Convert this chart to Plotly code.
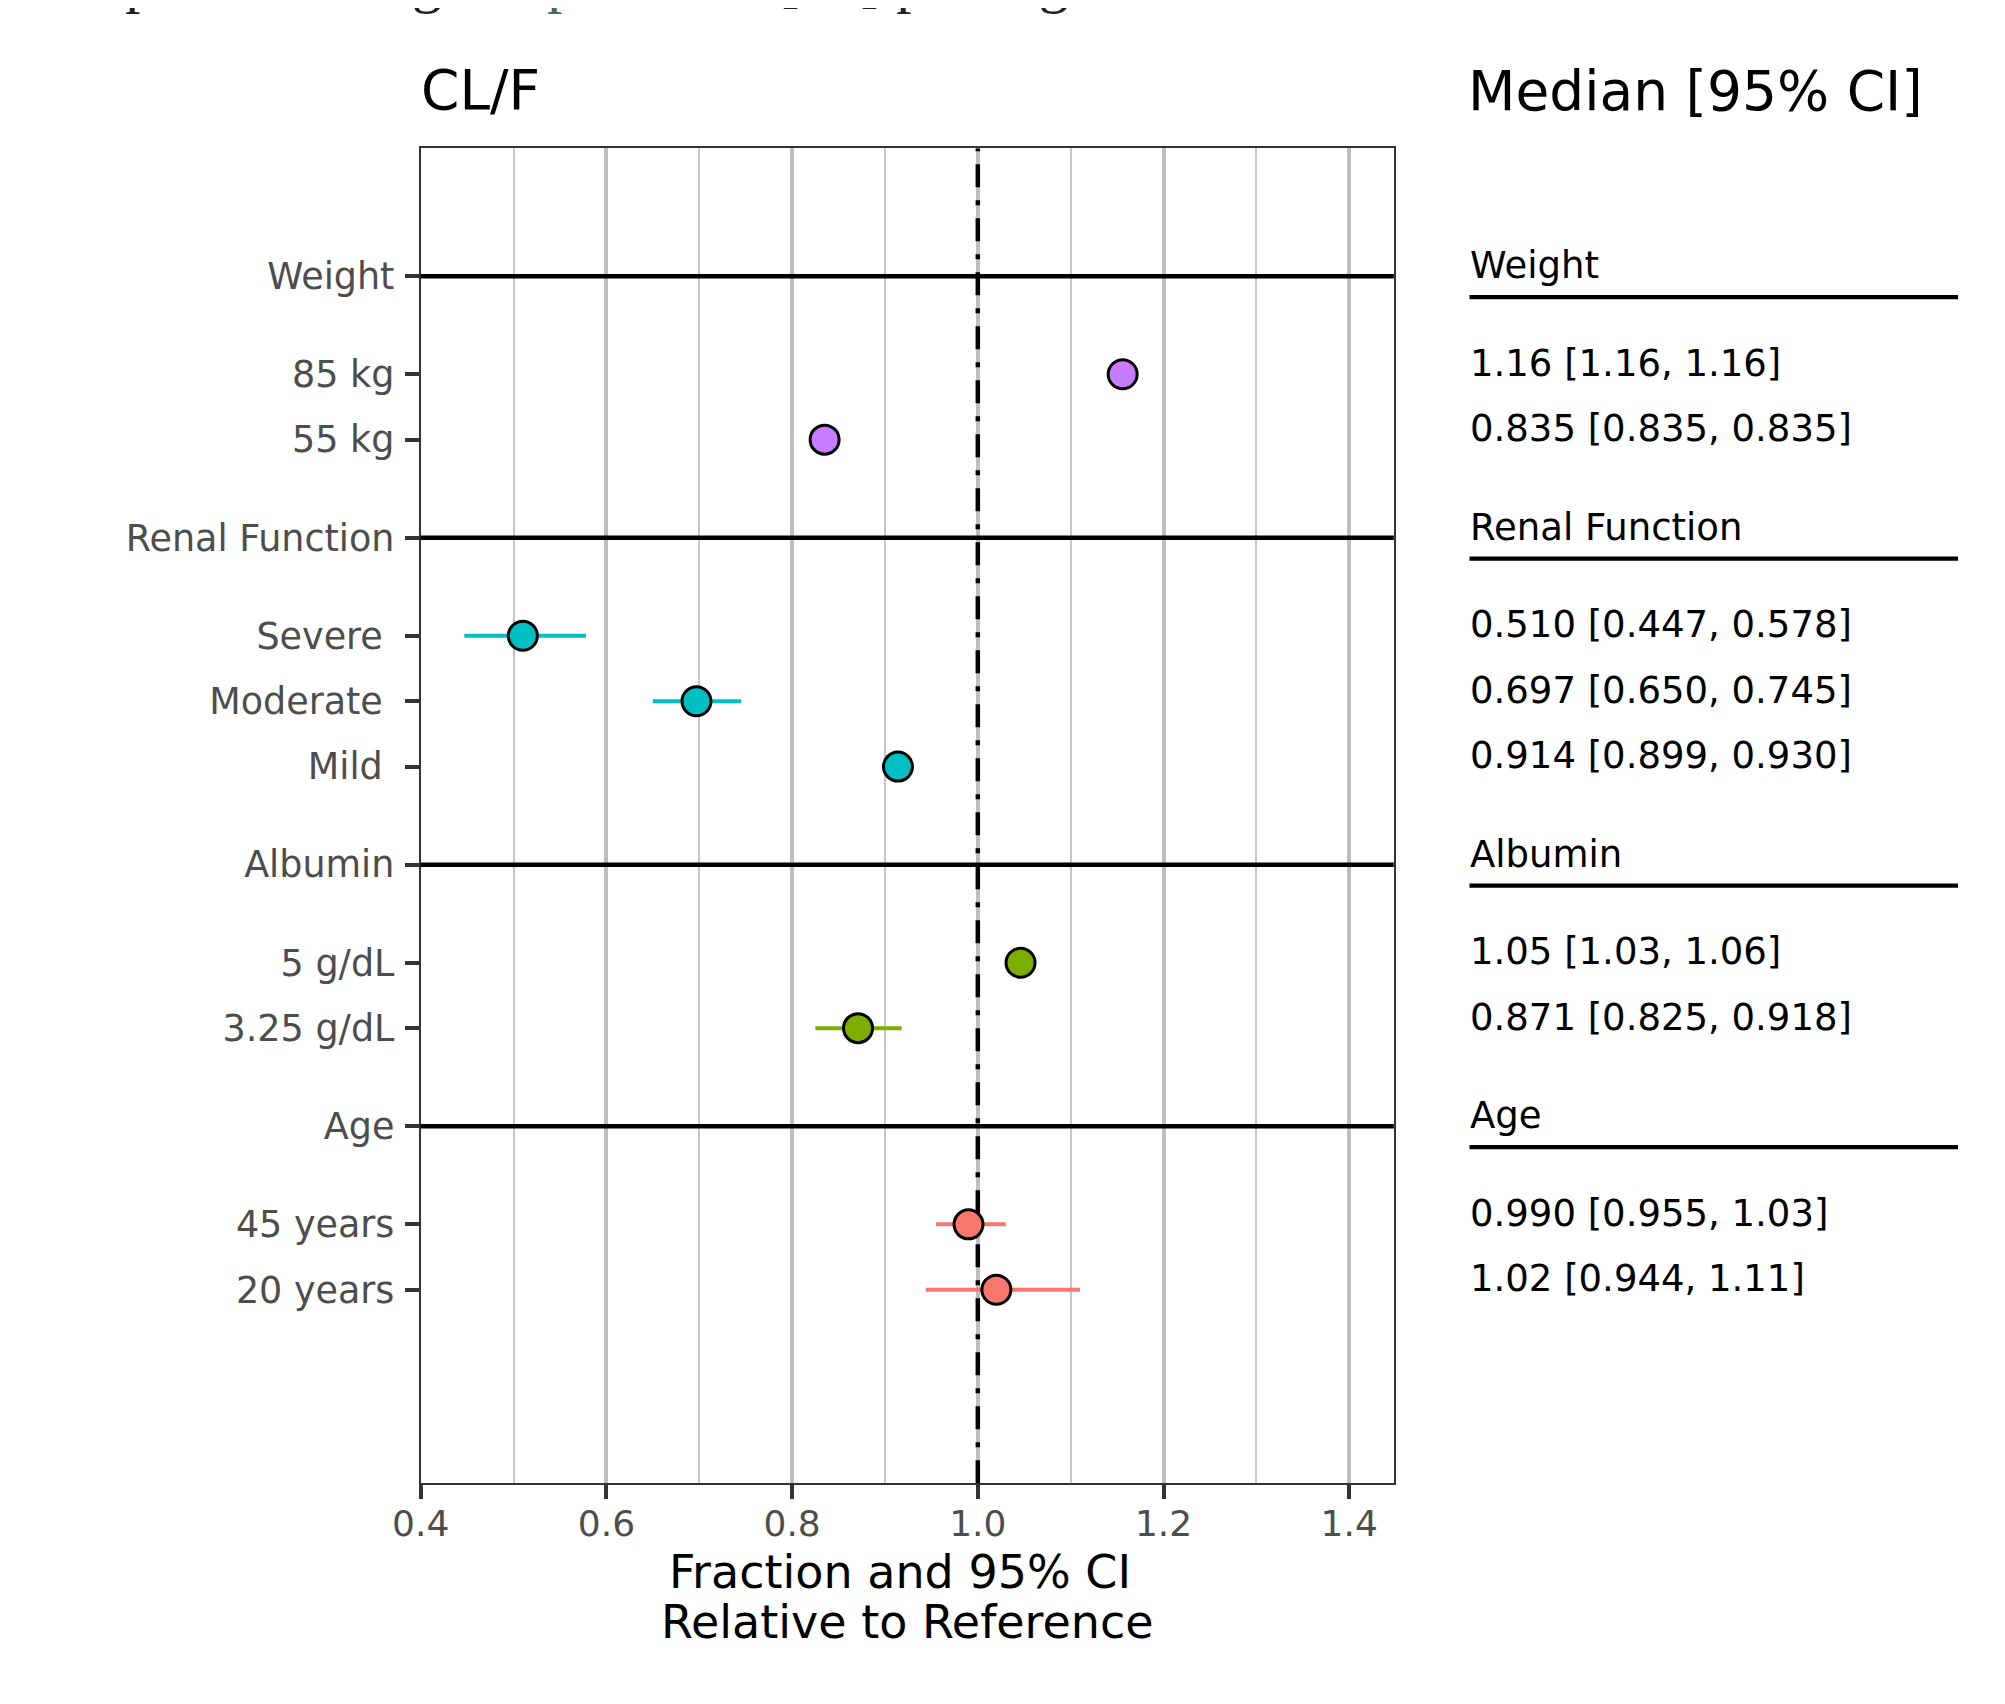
import plotly.graph_objects as go

# ---------------- data ----------------
groups = ["Weight", "Renal Function", "Albumin", "Age"]
group_colors = ["#C77CFF", "#00BFC4", "#7CAE00", "#F8766D"]

weight_levels = ["85 kg", "55 kg"]
weight_median = [1.156, 0.835]
weight_lo = [1.156, 0.835]
weight_hi = [1.156, 0.835]

renal_levels = ["Severe\u00a0", "Moderate\u00a0", "Mild\u00a0"]
renal_median = [0.510, 0.697, 0.914]
renal_lo = [0.447, 0.650, 0.899]
renal_hi = [0.578, 0.745, 0.930]

albumin_levels = ["5 g/dL", "3.25 g/dL"]
albumin_median = [1.046, 0.871]
albumin_lo = [1.03, 0.825]
albumin_hi = [1.06, 0.918]

age_levels = ["45 years", "20 years"]
age_median = [0.990, 1.02]
age_lo = [0.955, 0.944]
age_hi = [1.03, 1.11]

x_ticks = [0.4, 0.6, 0.8, 1.0, 1.2, 1.4]
x_minor = [0.5, 0.7, 0.9, 1.1, 1.3]

levels = [weight_levels, renal_levels, albumin_levels, age_levels]
medians = [weight_median, renal_median, albumin_median, age_median]
los = [weight_lo, renal_lo, albumin_lo, age_lo]
his = [weight_hi, renal_hi, albumin_hi, age_hi]

# ---------------- layout helpers ----------------
W, H = 2005, 1704
PAGE_OFF = 8  # default body margin of the html page
def px(x):
    return (x - PAGE_OFF) / W
def py(y):
    return 1 - (y - PAGE_OFF) / H

PLOT_L, PLOT_R, PLOT_T, PLOT_B = 420.7, 1393.8, 148.3, 1483.3
TAB_L, TAB_R = 1469.5, 1958.0
TAB_TEXT_L = 1467.5
Y_RANGE = [18.46, -1.955]
X_RANGE = [0.4, 1.448]
FONT = "DejaVu Sans"
TICK_GREY = "#4D4D4D"

# row positions: header, then levels 1.5, 2.5, ... below it
header_rows, level_rows = [], []
pos = 0.0
for lv in levels:
    header_rows.append(pos)
    rows = [pos + 1.5 + i for i in range(len(lv))]
    level_rows.append(rows)
    pos = rows[-1] + 1.5

tickvals, ticktext = [], []
for g, hr, lv, rows in zip(groups, header_rows, levels, level_rows):
    tickvals.append(hr)
    ticktext.append(g)
    tickvals += rows
    ticktext += lv

fig = go.Figure()

# CI segments
for col, rows, lo, hi in zip(group_colors, level_rows, los, his):
    xs, ys = [], []
    for r, a, b in zip(rows, lo, hi):
        xs += [a, b, None]
        ys += [r, r, None]
    fig.add_trace(go.Scatter(x=xs, y=ys, mode="lines",
                             line=dict(color=col, width=4),
                             hoverinfo="skip", showlegend=False))

# reference line at 1
fig.add_trace(go.Scatter(x=[1.0, 1.0], y=[Y_RANGE[0], Y_RANGE[1]], mode="lines",
                         line=dict(color="black", width=4.5, dash="23px,13px,5px,13px"),
                         hoverinfo="skip", showlegend=False))

# medians
for col, rows, med in zip(group_colors, level_rows, medians):
    fig.add_trace(go.Scatter(x=med, y=rows, mode="markers",
                             marker=dict(color=col, size=29,
                                         line=dict(color="black", width=3)),
                             showlegend=False))

shapes = []
annotations = []

# header lines across the panel
for hr in header_rows:
    shapes.append(dict(type="line", xref="x domain", x0=0, x1=1, yref="y",
                       y0=hr, y1=hr, line=dict(color="black", width=4.5),
                       layer="above"))

# right-hand table
for g, hr, rows, med, lo, hi in zip(groups, header_rows, level_rows, medians, los, his):
    annotations.append(dict(text=g, xref="paper", x=px(TAB_TEXT_L), xanchor="left",
                            yref="y", y=hr, yanchor="middle", yshift=10.5,
                            showarrow=False, font=dict(family=FONT, size=37, color="black")))
    shapes.append(dict(type="line", xref="paper", x0=px(TAB_L), x1=px(TAB_R),
                       yref="y", y0=hr + 0.32, y1=hr + 0.32,
                       line=dict(color="black", width=4.3)))
    for r, m, a, b in zip(rows, med, lo, hi):
        label = f"{m:#.3g} [{a:#.3g}, {b:#.3g}]"
        annotations.append(dict(text=label, xref="paper", x=px(TAB_TEXT_L), xanchor="left",
                                yref="y", y=r, yanchor="middle", yshift=11,
                                showarrow=False,
                                font=dict(family=FONT, size=37, color="black")))

# titles
annotations.append(dict(text="CL/F", xref="paper", x=px(PLOT_L - 1.5), xanchor="left",
                        yref="paper", y=py(90), yanchor="middle", showarrow=False,
                        font=dict(family=FONT, size=55, color="black")))
annotations.append(dict(text="Median [95% CI]", xref="paper", x=px(TAB_TEXT_L - 1.5), xanchor="left",
                        yref="paper", y=py(90.5), yanchor="middle", showarrow=False,
                        font=dict(family=FONT, size=55, color="black")))

# x axis title (two lines)
annotations.append(dict(text="Fraction and 95% CI", xref="x domain", x=0.5, xanchor="center",
                        xshift=-7, yref="paper", y=py(1572), yanchor="middle", showarrow=False,
                        font=dict(family=FONT, size=46, color="black")))
annotations.append(dict(text="Relative to Reference", xref="x domain", x=0.5, xanchor="center",
                        yref="paper", y=py(1622), yanchor="middle", showarrow=False,
                        font=dict(family=FONT, size=46, color="black")))

# cropped running text at the very top of the page
annotations.append(dict(
    text='and plotted using the <span style="color:#4a6670">pmforest</span> [18] package.',
    xref="paper", x=px(20), xanchor="left", yref="paper", y=py(15.5), yanchor="bottom",
    showarrow=False, font=dict(family="Liberation Serif", size=61, color="#231f20")))

fig.update_layout(
    width=W, height=H,
    margin=dict(l=0, r=0, t=0, b=0),
    paper_bgcolor="white", plot_bgcolor="white",
    showlegend=False,
    font=dict(family=FONT),
    shapes=shapes,
    annotations=annotations,
    xaxis=dict(
        domain=[px(PLOT_L), px(PLOT_R)], range=X_RANGE,
        tickmode="array", tickvals=x_ticks, ticktext=[f"{v:.1f}" for v in x_ticks],
        ticks="outside", ticklen=14, tickwidth=4, tickcolor="#333333",
        tickfont=dict(family=FONT, size=36, color=TICK_GREY),
        ticklabelstandoff=-7,
        showline=True, mirror=True, linecolor="#333333", linewidth=2,
        showgrid=True, gridcolor="#BEBEBE", gridwidth=3.5,
        minor=dict(tickmode="array", tickvals=x_minor, showgrid=True,
                   gridcolor="#C6C6C6", gridwidth=2, ticks=""),
        zeroline=False, automargin=False,
    ),
    yaxis=dict(
        domain=[py(PLOT_B), py(PLOT_T)], range=Y_RANGE,
        tickmode="array", tickvals=tickvals, ticktext=ticktext,
        ticks="outside", ticklen=14, tickwidth=4, tickcolor="#333333",
        tickfont=dict(family=FONT, size=36.5, color=TICK_GREY),
        ticklabelstandoff=3,
        showline=True, mirror=True, linecolor="#333333", linewidth=2,
        showgrid=False, zeroline=False, automargin=False,
    ),
)

fig.write_html("out.html")
